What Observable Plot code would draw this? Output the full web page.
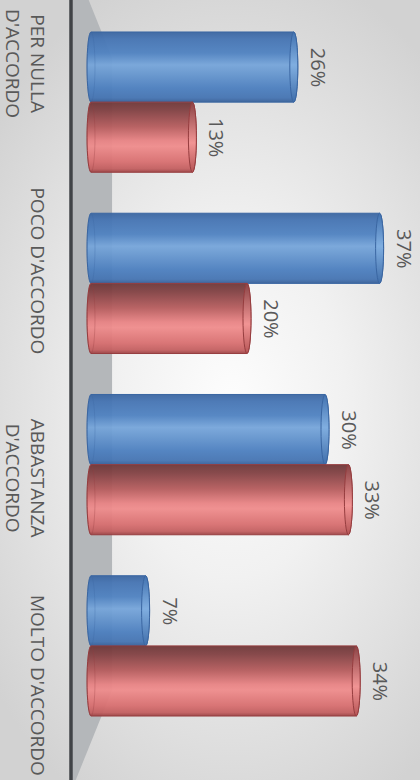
<!DOCTYPE html>
<html>
<head>
<meta charset="utf-8">
<script src="https://cdn.jsdelivr.net/npm/d3@7"></script>
<script src="https://cdn.jsdelivr.net/npm/@observablehq/plot@0.6"></script>
<style>
html, body { margin: 0; padding: 0; }
body {
  width: 420px; height: 780px; overflow: hidden;
  background: radial-gradient(ellipse 72% 58% at 55% 52%, #fdfdfd 0%, #f1f1f1 38%, #d2d2d2 100%);
  font-family: "Open Sans", sans-serif;
}
#chart svg { display: block; }
</style>
</head>
<body>
<div id="chart"></div>
<script>
// ---- data ----
const categories = ["PER NULLA\nD'ACCORDO", "POCO D'ACCORDO", "ABBASTANZA\nD'ACCORDO", "MOLTO D'ACCORDO"];
const blueValues = [26, 37, 30, 7];
const redValues  = [13, 20, 33, 34];
const valueSuffix = "%";

// ---- layout constants ----
const W = 420, H = 780;
const groupPad = 0.113;            // padding each side of a category group (in category units)
const half = (1 - 2 * groupPad) / 2;
const capR = 4;                    // cylinder cap radius in px
const frontSpread = 1.1436;        // perspective spread of the front plane (labels / axis)
const backSpread = 0.872;          // perspective spread of the back edge of the floor
const mid = categories.length / 2;
const textColor = "#595959";

const blueRows = blueValues.map((v, i) => ({cat: categories[i], value: v, y1: i + groupPad, y2: i + groupPad + half}));
const redRows  = redValues.map((v, i)  => ({cat: categories[i], value: v, y1: i + groupPad + half, y2: i + 1 - groupPad}));
const labelRows = categories.map((c, i) => ({cat: c, y: mid + (i + 0.5 - mid) * frontSpread}));
const floorX1 = -2.4, floorX2 = 2.7;
const floorRows = [
  {y: mid - mid * frontSpread, x1: floorX1, x2: floorX1},
  {y: mid - mid * backSpread,  x1: floorX1, x2: floorX2},
  {y: mid + mid * backSpread,  x1: floorX1, x2: floorX2},
  {y: mid + mid * frontSpread, x1: floorX1, x2: floorX1}
];

function gradient(defs, id, stops) {
  const g = defs.append("linearGradient").attr("id", id)
    .attr("x1", 0).attr("y1", 0).attr("x2", 0).attr("y2", 1);
  for (const [o, c] of stops) g.append("stop").attr("offset", o).attr("stop-color", c);
}

const defsMark = () => {
  const defs = d3.create("svg:defs");
  gradient(defs, "gBlue", [[0, "#3b66a1"], [0.1, "#4574b3"], [0.3, "#4f82c1"], [0.47, "#76a5da"], [0.56, "#6b9bd2"], [0.8, "#4c7fbf"], [0.94, "#4574b2"], [1, "#375f98"]]);
  gradient(defs, "gBlueCap", [[0, "#4272b0"], [0.47, "#80aee0"], [1, "#416fab"]]);
  gradient(defs, "gRed", [[0, "#6e3738"], [0.12, "#824143"], [0.35, "#b65c5d"], [0.55, "#e88384"], [0.63, "#ef8c8c"], [0.85, "#d86f70"], [0.95, "#c35f60"], [1, "#9c4345"]]);
  gradient(defs, "gRedCap", [[0, "#8a4446"], [0.58, "#f19494"], [1, "#b65556"]]);
  return defs.node();
};

function cylinder(rows, grad, capGrad, stroke) {
  const common = {y1: "y1", y2: "y2", rx: capR, ry: 80};
  return [
    Plot.rect(rows, {...common, x1: 0, x2: "value", insetLeft: -capR, insetRight: -capR,
      fill: `url(#${grad})`, fillOpacity: 0.95, stroke, strokeWidth: 1}),
    Plot.rect(rows, {...common, x1: 0, x2: 0, insetLeft: -capR, insetRight: -capR,
      fill: "none", stroke, strokeOpacity: 0.3, strokeWidth: 1}),
    Plot.rect(rows, {...common, x1: "value", x2: "value", insetLeft: -capR, insetRight: -capR,
      fill: `url(#${capGrad})`, stroke, strokeWidth: 1})
  ];
}

const chart = Plot.plot({
  width: W,
  height: H,
  marginLeft: 91,
  marginRight: 17,
  marginTop: 11.5,
  marginBottom: 43.5,
  style: {background: "transparent", fontFamily: "Open Sans, sans-serif", overflow: "visible"},
  x: {domain: [0, 40], axis: null},
  y: {domain: [0, categories.length], reverse: true, axis: null},
  marks: [
    defsMark,
    Plot.areaX(floorRows, {y: "y", x1: "x1", x2: "x2", fill: "#b4b7ba", curve: "linear"}),
    Plot.ruleX([0], {dx: -20.5, y1: mid - mid * frontSpread, y2: mid + mid * frontSpread, stroke: "#404347", strokeWidth: 3.5}),
    ...cylinder(blueRows, "gBlue", "gBlueCap", "#3a66a2"),
    ...cylinder(redRows, "gRed", "gRedCap", "#963d3f"),
    Plot.text([...blueRows, ...redRows], {
      x: "value", y: d => (d.y1 + d.y2) / 2, text: d => d.value + valueSuffix,
      rotate: 90, dx: 23, textAnchor: "middle", lineAnchor: "middle",
      fontSize: 20, fill: textColor
    }),
    Plot.text(labelRows, {
      frameAnchor: "left", y: "y", text: "cat", rotate: 90, dx: -43,
      textAnchor: "middle", lineAnchor: "top", lineHeight: 1.3,
      fontSize: 19, fill: textColor
    })
  ]
});
document.getElementById("chart").appendChild(chart);
</script>
</body>
</html>
